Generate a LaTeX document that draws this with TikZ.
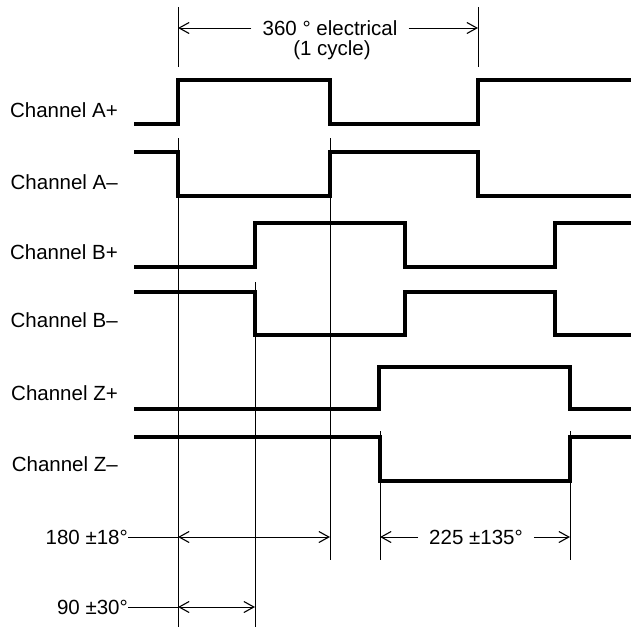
\documentclass[tikz,border=0pt]{standalone}
\usepackage{fontspec}
\setmainfont{Liberation Sans}
\usetikzlibrary{arrows.meta}
\begin{document}
\begin{tikzpicture}[x=1pt,y=-1pt,
  wave/.style={line width=4pt,line join=miter,line cap=butt},
  thin/.style={line width=0.9pt},
  dim/.style={line width=0.9pt,>={Straight Barb[length=10pt,width=11pt,line width=1.1pt]}},
  lab/.style={anchor=east,inner sep=0pt,font=\fontsize{20.5}{24}\selectfont},
  txt/.style={inner sep=0pt,font=\fontsize{20.5}{24}\selectfont}]
\useasboundingbox (0,0) rectangle (631,627);
% labels
\node[lab] (la) at (118,110) {Channel A+};
\node[lab] (lam) at (118,182) {Channel A–};
\node[lab] (lb) at (118,252) {Channel B+};
\node[lab] (lbm) at (118,320) {Channel B–};
\node[lab] (lz) at (118,393) {Channel Z+};
\node[lab] (lzm) at (118,464) {Channel Z–};
% waveforms
\draw[wave] (134,124) -- (178,124) -- (178,80) -- (330,80) -- (330,124) -- (478,124) -- (478,80) -- (631,80);
\draw[wave] (134,152) -- (178,152) -- (178,196) -- (330,196) -- (330,152) -- (478,152) -- (478,196) -- (631,196);
\draw[wave] (134,267) -- (255,267) -- (255,223) -- (405,223) -- (405,267) -- (555,267) -- (555,223) -- (631,223);
\draw[wave] (134,292) -- (255,292) -- (255,335) -- (405,335) -- (405,292) -- (555,292) -- (555,335) -- (631,335);
\draw[wave] (134,409) -- (379,409) -- (379,367) -- (570,367) -- (570,409) -- (631,409);
\draw[wave] (134,437) -- (380,437) -- (380,481) -- (570,481) -- (570,437) -- (631,437);
% thin reference lines
\coordinate (t1a) at (178,7); \coordinate (t1b) at (178,67);
\coordinate (t2a) at (478,7); \coordinate (t2b) at (478,67);
\draw[thin] (t1a) -- (t1b);
\draw[thin] (t2a) -- (t2b);
\draw[thin] (178,138) -- (178,627);
\draw[thin] (330,138) -- (330,560);
\draw[thin] (255,282) -- (255,627);
\draw[thin] (380,431) -- (380,560);
\draw[thin] (570,431) -- (570,560);
% 360 electrical
\node[txt,inner xsep=11pt] (e360) at (330,28) {360 ° electrical};
\node[txt] (cyc) at (332,50) {(1 cycle)};
\draw[dim,->] (e360.west) -- (178,28);
\draw[dim,->] (e360.east) -- (478,28);
% 180 +-18
\node[lab] (d180) at (128,537) {180 ±18°};
\draw[thin] (d180.east) -- (178,537);
\draw[dim,<->] (178,537) -- (330,537);
% 90 +-30
\node[lab] (d90) at (128,607) {90 ±30°};
\draw[thin] (d90.east) -- (178,607);
\draw[dim,<->] (178,607) -- (255,607);
% 225 +-135
\node[txt,inner xsep=11pt] (d225) at (476,537) {225 ±135°};
\draw[dim,->] (d225.west) -- (380,537);
\draw[dim,->] (d225.east) -- (570,537);
\end{tikzpicture}
\end{document}
